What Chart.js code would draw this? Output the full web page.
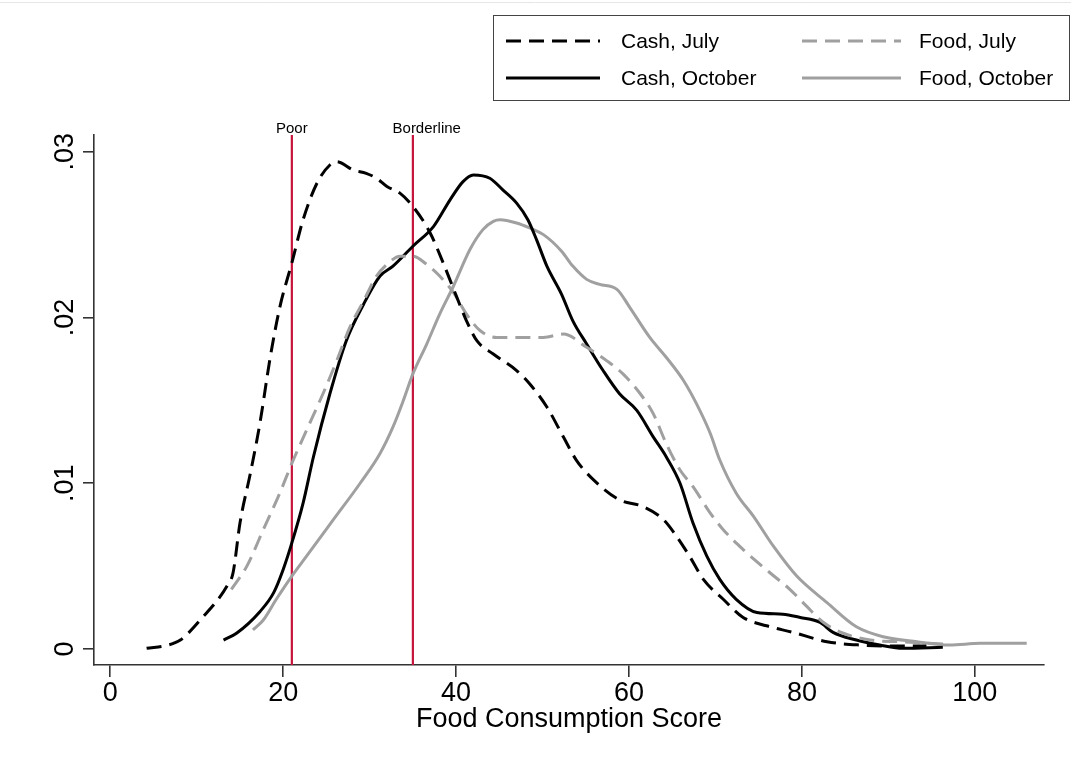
<!DOCTYPE html>
<html>
<head>
<meta charset="utf-8">
<script src="https://cdn.jsdelivr.net/npm/chart.js@4.4.1/dist/chart.umd.min.js"></script>
<style>
  html, body { margin: 0; padding: 0; background: #fff; }
  #wrap { position: relative; width: 1071px; height: 769px; }
</style>
</head>
<body>
<div id="wrap"><canvas id="fcs"></canvas></div>
<script>
// tick values / labels
const xTicks = [0, 20, 40, 60, 80, 100]
const yTicks = [0, 0.01, 0.02, 0.03]
const yTickLabels = ['0', '.01', '.02', '.03']

// cut-off lines
const cutoffs = [21, 35]
const cutoffLabels = ['Poor', 'Borderline']
const cutoffLabelX = [21, 36.6]

// kernel densities
const cashJulyX = [4.2, 6.7, 8.1, 10.4, 13.5, 14.2, 15.0, 16.2, 17.3, 18.5, 19.6, 21.0, 22.3, 23.9, 25.4, 26.2, 28.1, 29.6, 30.8, 32.0, 33.5, 35.0, 37.0, 38.5, 40.1, 41.2, 42.4, 44.3, 47.0, 48.5, 50.5, 52.4, 53.9, 55.9, 58.9, 61.6, 64.0, 65.5, 67.0, 68.6, 70.9, 73.2, 75.9, 79.0, 82.9, 86.7, 91.3, 94.4]
const cashJulyY = [.00004, .00024, .00054, .00175, .0038, .0046, .0076, .0106, .0136, .0176, .0206, .0233, .0259, .0281, .0292, .0294, .0289, .0287, .0284, .0279, .0275, .0267, .0251, .0233, .0212, .0198, .0186, .0178, .0168, .0160, .0146, .0128, .0114, .0102, .0090, .0086, .0078, .0068, .0056, .0042, .0030, .0019, .0014, .0010, .00044, .00024, .00018, .00018]

const cashOctX = [13.1, 14.6, 17.3, 18.9, 20.0, 21.0, 22.3, 23.5, 25.4, 27.3, 29.3, 31.2, 32.7, 35.0, 37.4, 39.3, 40.8, 42.0, 43.9, 45.4, 47.0, 48.3, 49.3, 50.5, 52.2, 53.5, 55.1, 57.0, 58.9, 60.9, 62.8, 64.3, 65.9, 67.4, 69.0, 70.5, 72.4, 74.8, 77.8, 79.8, 82.1, 83.6, 86.3, 89.0, 91.7, 96.3]
const cashOctY = [.00054, .00095, .00225, .0034, .0048, .0064, .0088, .0116, .0154, .0186, .0208, .0225, .0231, .0243, .0255, .0271, .0282, .0286, .0284, .0277, .0269, .0259, .0247, .0231, .0214, .0198, .0184, .0168, .0154, .0144, .0128, .0116, .0100, .0076, .0056, .0042, .0030, .0022, .0021, .0019, .0016, .0010, .00054, .00024, .00004, .0001]

const foodJulyX = [14.0, 15.8, 17.7, 19.6, 21.0, 22.7, 24.6, 26.2, 27.7, 29.3, 30.8, 32.0, 33.5, 35.0, 36.6, 38.1, 39.7, 41.2, 42.8, 44.7, 47.4, 50.1, 52.4, 55.1, 57.4, 59.3, 61.3, 62.8, 64.3, 65.9, 67.4, 69.4, 70.9, 73.2, 76.3, 78.6, 80.5, 82.5, 84.8, 87.9, 91.3, 96.3]
const foodJulyY = [.0036, .0050, .0072, .0094, .0112, .0132, .0154, .0174, .0194, .0210, .0225, .0232, .0237, .0237, .0232, .0225, .0215, .0202, .0192, .0188, .0188, .0188, .0190, .0182, .0174, .0166, .0154, .0142, .0124, .0108, .0098, .0082, .0072, .0060, .0046, .0036, .0026, .0016, .00095, .00054, .00044, .0003]

const foodOctX = [16.5, 17.7, 19.2, 21.0, 22.7, 25.8, 28.9, 31.2, 32.7, 33.9, 35.0, 36.6, 38.1, 39.7, 41.6, 43.1, 44.3, 45.1, 47.0, 48.5, 50.1, 52.2, 53.5, 55.1, 56.6, 58.6, 60.1, 62.4, 64.3, 66.3, 67.8, 69.4, 70.5, 72.4, 74.4, 76.7, 79.4, 82.9, 86.3, 89.4, 93.3, 97.1, 100.6, 106.0]
const foodOctY = [.00115, .00175, .0030, .0044, .0056, .0078, .0100, .0118, .0134, .0150, .0166, .0184, .0202, .0219, .0241, .0253, .0258, .0259, .0257, .0254, .0250, .0240, .0231, .0223, .0220, .0217, .0206, .0188, .0176, .0162, .0148, .0130, .0114, .0094, .0080, .0062, .0044, .0028, .00134, .00074, .00044, .00024, .00034, .00034]

const X_MIN = -1.885, X_MAX = 108
const Y_MIN = -0.000965, Y_MAX = 0.03101

const FONT = '"Liberation Sans", Arial, sans-serif'

const pts = (xs, ys) => xs.map((x, i) => ({ x: x, y: ys[i] }))

const curve = (label, xs, ys, color, dashed) => ({
  label: label,
  data: pts(xs, ys),
  borderColor: color,
  borderWidth: 3,
  borderDash: dashed ? [15, 8] : [],
  pointRadius: 0,
  cubicInterpolationMode: 'monotone',
  fill: false,
  order: 1,
})

const cutoffSets = cutoffs.map((c, i) => ({
  label: cutoffLabels[i],
  data: [{ x: c, y: Y_MIN }, { x: c, y: Y_MAX }],
  borderColor: '#c8143c',
  borderWidth: 2.2,
  pointRadius: 0,
  isCutoff: true,
  order: 5,
}))

// stata-ish boxed legend, 2x2, built from the datasets
const boxLegend = {
  id: 'boxLegend',
  afterDraw(chart) {
    const ctx = chart.ctx
    const sets = chart.data.datasets.filter(d => !d.isCutoff)
    const box = { l: 493.5, t: 15.5, r: 1069.5, b: 100.5 }
    ctx.save()
    ctx.strokeStyle = '#e6e6e6'
    ctx.lineWidth = 1
    ctx.beginPath(); ctx.moveTo(0, 2.5); ctx.lineTo(1071, 2.5); ctx.stroke()
    ctx.strokeStyle = '#444'
    ctx.strokeRect(box.l, box.t, box.r - box.l, box.b - box.t)
    const cols = [{ x0: 506, x1: 600, tx: 621 }, { x0: 802, x1: 901, tx: 919 }]
    const rows = [41, 78]
    // [dataset, column, row]
    const layout = [[0, 0, 0], [1, 1, 0], [2, 0, 1], [3, 1, 1]]
    ctx.font = '21px ' + FONT
    ctx.textBaseline = 'middle'
    ctx.fillStyle = '#000'
    layout.forEach(([di, c, r]) => {
      const d = sets[di]
      const y = rows[r]
      ctx.strokeStyle = d.borderColor
      ctx.lineWidth = d.borderWidth
      ctx.setLineDash(d.borderDash)
      ctx.beginPath(); ctx.moveTo(cols[c].x0, y); ctx.lineTo(cols[c].x1, y); ctx.stroke()
      ctx.setLineDash([])
      ctx.fillText(d.label, cols[c].tx, y + 1)
    })
    ctx.restore()
  }
}

// Poor / Borderline captions on top of the red lines
const cutoffText = {
  id: 'cutoffText',
  afterDraw(chart) {
    const ctx = chart.ctx
    const xs = chart.scales.x
    const top = chart.chartArea.top
    ctx.save()
    ctx.font = '15px ' + FONT
    ctx.textAlign = 'center'
    ctx.textBaseline = 'alphabetic'
    ctx.fillStyle = '#000'
    cutoffLabels.forEach((t, i) => {
      ctx.fillText(t, xs.getPixelForValue(cutoffLabelX[i]), top - 2)
    })
    ctx.restore()
  }
}

const config = {
  type: 'line',
  data: {
    datasets: [
      curve('Cash, July', cashJulyX, cashJulyY, '#000', true),
      curve('Food, July', foodJulyX, foodJulyY, '#a0a0a0', true),
      curve('Cash, October', cashOctX, cashOctY, '#000', false),
      curve('Food, October', foodOctX, foodOctY, '#a0a0a0', false),
    ].concat(cutoffSets),
  },
  options: {
    responsive: true,
    maintainAspectRatio: false,
    animation: false,
    layout: { padding: { top: 135, right: 27, left: 0, bottom: 0 } },
    plugins: {
      legend: { display: false },
      tooltip: { enabled: false },
    },
    scales: {
      x: {
        type: 'linear',
        min: X_MIN,
        max: X_MAX,
        afterBuildTicks: s => { s.ticks = xTicks.map(v => ({ value: v })) },
        afterFit: s => { s.height = 104 },
        ticks: {
          color: '#000',
          font: { family: FONT, size: 27 },
          padding: 0,
          callback: v => String(v),
        },
        grid: { drawOnChartArea: false, drawTicks: true, tickLength: 12, tickColor: '#333', lineWidth: 1.6 },
        border: { color: '#333', width: 1.6 },
        title: {
          display: true,
          text: 'Food Consumption Score',
          color: '#000',
          font: { family: FONT, size: 27 },
          padding: { top: 0, bottom: 33 },
        },
      },
      y: {
        type: 'linear',
        min: Y_MIN,
        max: Y_MAX,
        afterBuildTicks: s => { s.ticks = yTicks.map(v => ({ value: v })) },
        afterFit: s => { s.width = 94 },
        ticks: {
          color: '#000',
          font: { family: FONT, size: 27 },
          minRotation: 90,
          maxRotation: 90,
          crossAlign: 'center',
          padding: -1,
          callback: v => yTickLabels[yTicks.indexOf(v)],
        },
        grid: { drawOnChartArea: false, drawTicks: true, tickLength: 11, tickColor: '#333', lineWidth: 1.6 },
        border: { color: '#333', width: 1.6 },
      },
    },
  },
  plugins: [boxLegend, cutoffText],
}

const fcsCtx = document.getElementById('fcs')
window.fcsChart = new Chart(fcsCtx, config)
</script>
</body>
</html>
